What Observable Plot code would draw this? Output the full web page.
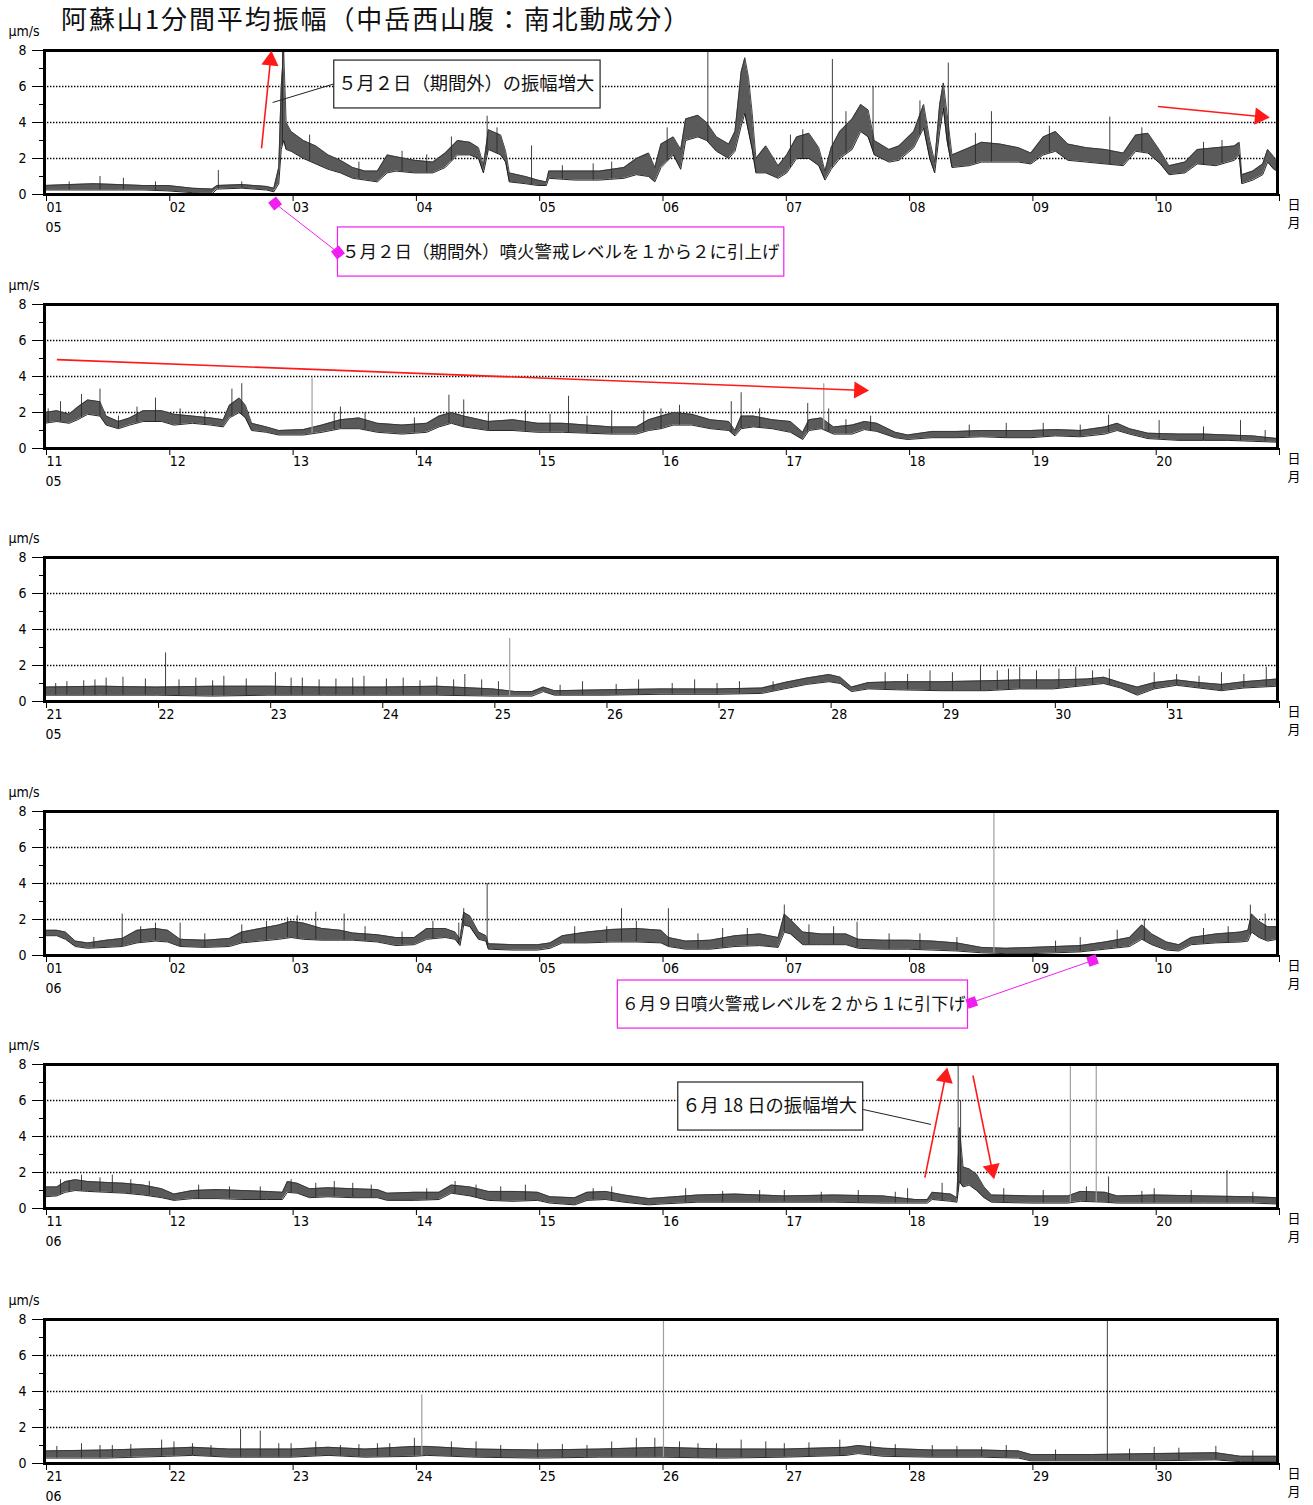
<!DOCTYPE html>
<html><head><meta charset="utf-8">
<script src="https://cdn.jsdelivr.net/npm/d3@7"></script>
<script src="https://cdn.jsdelivr.net/npm/@observablehq/plot@0.6"></script>
<style>
html,body{margin:0;padding:0;background:#fff;overflow:hidden;}
#wrap{position:relative;width:1313px;height:1505px;}
#title{position:absolute;left:61px;top:3px;font-family:"Noto Sans CJK JP",sans-serif;font-size:26px;line-height:30px;letter-spacing:1.9px;color:#111;white-space:nowrap;}
.panel{position:absolute;left:0;}
</style></head>
<body><div id="wrap"><div id="title">阿蘇山1分間平均振幅（中岳西山腹：南北動成分）</div></div>
<script>
// ---------------- DATA ----------------
// envelope knots: [day offset from panel start, lower, upper] in μm/s
const p1Env = [[0,0.25,0.5],[0.2,0.25,0.55],[0.4,0.25,0.6],[0.6,0.25,0.55],[0.8,0.25,0.5],[1.0,0.2,0.5],[1.2,0.1,0.35],[1.36,0.05,0.3],[1.4,0.3,0.5],[1.6,0.35,0.55],[1.8,0.25,0.45],[1.86,0.15,0.35],[1.9,0.6,1.5],[1.92,2.5,6.0],[1.94,3.0,8.0],[1.96,2.5,4.0],[2.0,2.4,3.5],[2.1,2.0,3.0],[2.2,1.7,2.7],[2.3,1.4,2.2],[2.4,1.2,1.9],[2.5,0.9,1.5],[2.6,0.8,1.3],[2.7,0.7,1.3],[2.78,1.2,2.2],[2.85,1.3,2.1],[3.0,1.2,1.9],[3.15,1.2,1.8],[3.25,1.5,2.3],[3.35,2.2,3.0],[3.45,2.2,2.9],[3.52,2.0,2.6],[3.56,1.2,1.6],[3.6,2.5,3.6],[3.7,2.2,3.3],[3.74,1.8,2.4],[3.77,0.7,1.2],[3.9,0.6,1.0],[4.0,0.5,0.8],[4.07,0.5,0.7],[4.09,0.9,1.3],[4.3,0.8,1.3],[4.5,0.8,1.3],[4.7,0.9,1.5],[4.8,1.1,2.0],[4.9,1.0,2.3],[4.95,0.7,1.5],[5.0,1.5,2.8],[5.1,2.2,3.2],[5.16,1.4,2.5],[5.2,3.0,4.2],[5.3,3.2,4.4],[5.37,3.0,4.0],[5.45,2.4,3.2],[5.55,2.0,2.8],[5.6,2.4,3.5],[5.65,3.8,6.8],[5.68,4.5,7.6],[5.71,3.5,6.5],[5.74,2.5,4.5],[5.77,1.2,2.0],[5.85,1.2,2.7],[5.95,0.9,1.6],[6.02,1.2,2.2],[6.1,2.0,3.2],[6.2,2.0,3.4],[6.28,1.6,2.6],[6.33,0.8,1.3],[6.38,1.4,2.6],[6.45,2.0,3.5],[6.55,2.5,4.2],[6.62,3.5,5.0],[6.68,3.2,4.7],[6.73,2.2,3.0],[6.85,1.8,2.5],[6.93,1.9,2.7],[7.05,2.6,3.5],[7.13,3.7,5.0],[7.18,2.0,3.0],[7.22,1.2,1.8],[7.26,3.5,5.0],[7.29,4.8,6.2],[7.32,3.0,4.5],[7.36,1.5,2.2],[7.5,1.6,2.6],[7.6,1.8,2.9],[7.75,1.8,2.8],[7.9,1.8,2.6],[8.0,1.7,2.3],[8.1,2.2,3.2],[8.2,2.4,3.5],[8.3,1.9,2.8],[8.45,1.8,2.6],[8.6,1.7,2.5],[8.75,1.6,2.3],[8.85,2.4,3.3],[8.95,2.3,3.4],[9.05,1.7,2.4],[9.12,1.1,1.6],[9.25,1.2,1.8],[9.35,1.7,2.5],[9.5,1.6,2.6],[9.65,1.9,2.7],[9.69,2.2,2.9],[9.71,0.6,1.1],[9.8,0.8,1.3],[9.88,1.1,1.7],[9.92,1.8,2.5],[9.97,1.4,2.1],[10,1.3,1.7]];
const p1Spikes = [[0.2,0.7],[0.45,1.0],[0.64,0.9],[0.9,0.7],[1.41,1.33],[1.6,0.7],[1.93,8],[2.15,3.3],[2.55,1.8],[2.9,2.4],[3.1,2.2],[3.3,3.2],[3.59,4.35],[3.67,3.7],[3.95,2.7],[4.2,1.6],[4.45,1.7],[4.6,1.8],[5.05,3.7],[5.38,8],[6.05,3.3],[6.15,3.6],[6.39,7.5],[6.5,4.6],[6.72,6.0],[7.1,5.2],[7.33,7.3],[7.55,3.4],[7.68,4.6],[8.15,3.8],[8.64,4.3],[8.9,3.7],[9.4,2.9],[9.55,3.0]];
const p1Gray = [];

const p2Env = [[0,1.4,2.0],[0.1,1.5,2.1],[0.2,1.4,1.9],[0.27,1.6,2.3],[0.35,1.9,2.7],[0.45,1.8,2.6],[0.5,1.3,1.8],[0.6,1.1,1.5],[0.69,1.3,1.7],[0.8,1.5,2.1],[0.95,1.5,2.1],[1.05,1.3,1.9],[1.2,1.4,1.8],[1.35,1.3,1.7],[1.45,1.2,1.6],[1.5,1.7,2.4],[1.58,2.0,2.8],[1.63,1.7,2.4],[1.68,1.0,1.4],[1.8,0.9,1.2],[1.9,0.75,1.0],[2.1,0.75,1.05],[2.25,0.9,1.3],[2.4,1.1,1.6],[2.55,1.1,1.7],[2.7,0.9,1.4],[2.9,0.8,1.3],[3.1,0.9,1.4],[3.2,1.2,1.8],[3.3,1.4,2.0],[3.4,1.2,1.8],[3.6,1.0,1.5],[3.8,1.0,1.6],[4.0,0.9,1.4],[4.2,0.9,1.4],[4.4,0.85,1.3],[4.6,0.8,1.2],[4.8,0.8,1.2],[4.9,1.0,1.6],[5.0,1.1,1.8],[5.1,1.3,2.0],[5.25,1.3,1.9],[5.4,1.1,1.6],[5.55,1.0,1.5],[5.6,0.7,1.0],[5.65,1.1,1.8],[5.75,1.2,1.8],[5.9,1.1,1.6],[6.05,0.9,1.5],[6.15,0.5,0.9],[6.2,1.0,1.6],[6.3,1.1,1.7],[6.4,0.8,1.2],[6.55,0.8,1.3],[6.65,1.05,1.5],[6.75,0.95,1.4],[6.9,0.6,0.9],[7.0,0.5,0.75],[7.2,0.6,0.95],[7.4,0.6,0.95],[7.6,0.65,1.0],[7.8,0.6,1.0],[8.0,0.6,1.0],[8.2,0.7,1.05],[8.4,0.65,1.0],[8.6,0.8,1.2],[8.7,1.0,1.4],[8.8,0.8,1.1],[8.95,0.55,0.85],[9.2,0.45,0.8],[9.4,0.45,0.8],[9.6,0.45,0.75],[9.8,0.4,0.7],[10,0.35,0.55]];
const p2Spikes = [[0.03,2.2],[0.13,2.6],[0.3,3.0],[0.45,3.3],[0.6,1.8],[0.75,2.3],[0.9,2.8],[1.1,2.2],[1.3,2.1],[1.52,3.3],[1.6,3.6],[2.35,2.0],[2.4,2.3],[2.6,2.0],[3.0,1.7],[3.28,2.96],[3.4,2.7],[3.6,2.0],[3.9,2.1],[4.1,1.9],[4.25,2.9],[4.4,1.8],[4.6,2.1],[4.86,2.1],[5.0,2.2],[5.15,2.4],[5.57,2.6],[5.65,3.1],[5.8,2.2],[6.19,2.5],[6.36,2.2],[6.5,1.6],[6.7,1.8],[7.5,1.3],[7.8,1.4],[8.1,1.4],[8.4,1.3],[8.63,1.85],[9.04,1.55],[9.4,1.2],[9.7,1.55],[9.9,1.0]];
const p2Gray = [[2.17,3.9],[6.32,3.6]];

const p3Env = [[0,0.35,0.8],[0.5,0.35,0.85],[1.0,0.35,0.8],[1.5,0.3,0.85],[2.0,0.35,0.85],[2.5,0.35,0.8],[3.0,0.35,0.8],[3.5,0.35,0.85],[4.0,0.3,0.7],[4.2,0.3,0.55],[4.35,0.3,0.55],[4.45,0.55,0.8],[4.55,0.35,0.6],[5.0,0.35,0.65],[5.5,0.4,0.7],[6.0,0.4,0.7],[6.4,0.45,0.75],[6.6,0.7,1.05],[6.8,0.95,1.3],[7.0,1.1,1.5],[7.1,1.0,1.35],[7.2,0.55,0.8],[7.35,0.7,1.05],[7.6,0.65,1.1],[8.0,0.6,1.1],[8.4,0.6,1.15],[8.7,0.7,1.2],[9.0,0.7,1.2],[9.3,0.9,1.25],[9.45,1.0,1.35],[9.6,0.75,1.05],[9.75,0.35,0.8],[9.9,0.7,1.05],[10.1,0.9,1.2],[10.3,0.75,1.05],[10.5,0.6,0.95],[10.7,0.75,1.1],[11,0.85,1.25]];
const p3Spikes = [[0.1,1.0],[0.2,1.1],[0.35,1.15],[0.45,1.2],[0.55,1.3],[0.7,1.35],[0.9,1.25],[1.08,2.7],[1.2,1.2],[1.35,1.3],[1.5,1.15],[1.6,1.4],[1.8,1.25],[2.06,1.6],[2.2,1.3],[2.3,1.3],[2.45,1.2],[2.6,1.25],[2.75,1.3],[2.85,1.4],[3.05,1.25],[3.2,1.3],[3.35,1.15],[3.5,1.35],[3.65,1.2],[3.75,1.5],[3.9,1.2],[4.05,1.1],[4.6,0.9],[4.8,1.1],[5.1,0.95],[5.3,1.2],[5.6,1.0],[5.8,1.2],[6.0,1.0],[6.2,1.1],[6.5,1.1],[7.5,1.6],[7.7,1.5],[7.9,1.7],[8.1,1.6],[8.35,2.0],[8.5,1.7],[8.6,1.8],[8.7,1.9],[8.85,1.7],[9.05,1.8],[9.2,1.9],[9.35,1.7],[9.5,1.8],[9.9,1.6],[10.1,1.5],[10.3,1.4],[10.5,1.6],[10.7,1.5],[10.9,1.9]];
const p3Gray = [[4.15,3.5]];

const p4Env = [[0,1.1,1.4],[0.1,1.1,1.4],[0.17,0.9,1.3],[0.25,0.5,0.8],[0.35,0.4,0.7],[0.5,0.45,0.85],[0.63,0.5,0.95],[0.75,0.7,1.4],[0.9,0.8,1.5],[1.0,0.75,1.4],[1.1,0.5,0.9],[1.3,0.45,0.85],[1.5,0.5,0.95],[1.6,0.7,1.3],[1.75,0.8,1.5],[1.9,0.9,1.7],[2.0,1.0,1.9],[2.1,0.9,1.8],[2.25,0.85,1.5],[2.4,0.85,1.4],[2.5,0.85,1.25],[2.7,0.75,1.15],[2.85,0.55,1.0],[3.0,0.6,1.0],[3.1,0.9,1.5],[3.25,1.0,1.5],[3.33,0.9,1.3],[3.37,0.55,0.9],[3.4,1.7,2.4],[3.45,1.6,2.2],[3.52,0.9,1.3],[3.58,0.8,1.1],[3.6,0.35,0.65],[3.8,0.3,0.6],[4.0,0.3,0.6],[4.1,0.4,0.7],[4.2,0.7,1.1],[4.4,0.7,1.3],[4.6,0.75,1.45],[4.8,0.75,1.5],[5.0,0.7,1.4],[5.06,0.5,1.0],[5.2,0.35,0.8],[5.4,0.35,0.85],[5.6,0.5,1.1],[5.8,0.55,1.2],[5.95,0.45,1.0],[6.0,1.3,2.3],[6.05,1.2,2.0],[6.15,0.6,1.3],[6.3,0.6,1.2],[6.5,0.6,1.2],[6.6,0.4,0.9],[6.8,0.35,0.85],[7.0,0.35,0.85],[7.2,0.3,0.8],[7.4,0.25,0.7],[7.6,0.15,0.45],[7.8,0.1,0.4],[8.0,0.1,0.45],[8.2,0.15,0.5],[8.4,0.2,0.55],[8.6,0.35,0.75],[8.8,0.5,1.0],[8.9,0.9,1.7],[8.98,0.6,1.2],[9.1,0.3,0.75],[9.2,0.25,0.6],[9.3,0.6,1.0],[9.5,0.7,1.2],[9.7,0.75,1.3],[9.76,0.8,1.4],[9.79,1.3,2.3],[9.85,1.0,1.9],[9.92,0.8,1.6],[10,0.9,1.6]];
const p4Spikes = [[0.4,1.0],[0.63,2.3],[0.78,1.6],[0.9,1.8],[1.1,1.8],[1.3,1.2],[1.6,1.7],[1.8,1.9],[1.97,2.1],[2.05,2.2],[2.2,2.4],[2.43,2.3],[2.6,1.6],[2.9,1.3],[3.15,1.9],[3.36,1.8],[3.4,2.6],[3.59,4.0],[4.3,1.6],[4.56,1.6],[4.68,2.6],[4.8,1.9],[5.06,2.6],[5.3,1.2],[5.5,1.5],[5.7,1.5],[6.0,2.8],[6.2,1.7],[6.4,1.6],[6.59,1.85],[6.85,1.2],[7.1,1.2],[7.4,1.0],[8.2,0.8],[8.4,1.0],[8.7,1.4],[8.92,2.0],[9.4,1.5],[9.6,1.6],[9.78,2.8],[9.9,2.3]];
const p4Gray = [[7.7,8]];

const p5Env = [[0,0.65,1.2],[0.1,0.7,1.2],[0.17,0.9,1.5],[0.25,1.0,1.6],[0.35,0.95,1.5],[0.5,0.9,1.45],[0.65,0.85,1.4],[0.8,0.75,1.3],[0.95,0.6,1.1],[1.05,0.45,0.8],[1.2,0.55,1.0],[1.4,0.55,1.05],[1.6,0.5,1.0],[1.8,0.5,0.95],[1.93,0.5,0.9],[1.97,0.9,1.5],[2.05,0.85,1.4],[2.15,0.6,1.1],[2.3,0.65,1.15],[2.5,0.6,1.1],[2.7,0.6,1.05],[2.78,0.45,0.85],[3.0,0.45,0.9],[3.2,0.5,0.9],[3.3,0.85,1.3],[3.45,0.7,1.2],[3.6,0.45,0.95],[3.8,0.4,0.95],[4.0,0.45,0.9],[4.1,0.3,0.65],[4.3,0.2,0.6],[4.4,0.45,0.9],[4.55,0.5,0.95],[4.7,0.35,0.75],[4.9,0.2,0.55],[5.0,0.25,0.6],[5.3,0.35,0.75],[5.6,0.35,0.8],[6.0,0.35,0.7],[6.4,0.35,0.75],[6.8,0.3,0.7],[7.06,0.3,0.5],[7.16,0.3,0.5],[7.2,0.5,0.9],[7.35,0.4,0.8],[7.4,0.35,0.6],[7.42,1.5,4.5],[7.45,1.2,2.3],[7.5,1.3,2.2],[7.56,1.0,1.9],[7.62,0.6,1.2],[7.68,0.35,0.75],[8.0,0.3,0.7],[8.3,0.3,0.7],[8.4,0.4,0.95],[8.6,0.35,0.9],[8.7,0.3,0.7],[9.0,0.3,0.75],[9.4,0.3,0.7],[9.8,0.3,0.65],[10,0.25,0.6]];
const p5Spikes = [[0.13,1.6],[0.2,1.5],[0.3,1.85],[0.45,1.7],[0.55,1.85],[0.7,1.6],[0.85,1.5],[1.25,1.3],[1.5,1.2],[1.75,1.2],[2.0,1.6],[2.2,1.4],[2.35,1.5],[2.5,1.4],[2.65,1.3],[3.1,1.1],[3.33,1.5],[3.5,1.3],[3.7,1.2],[3.9,1.3],[4.45,1.1],[4.6,1.2],[5.2,1.1],[5.5,0.95],[5.8,1.0],[6.0,1.0],[6.3,0.9],[6.6,1.0],[6.9,0.9],[7.0,1.1],[7.28,1.4],[7.41,8],[7.43,6.0],[7.78,1.1],[8.1,1.0],[8.45,1.2],[8.63,1.75],[8.9,0.95],[9.0,1.1],[9.3,1.0],[9.59,2.1],[9.8,0.9]];
const p5Gray = [[8.32,8],[8.53,8]];

const p6Env = [[0,0.3,0.7],[0.5,0.3,0.75],[1.0,0.4,0.85],[1.2,0.45,0.9],[1.5,0.35,0.8],[2.0,0.35,0.8],[2.3,0.45,0.9],[2.6,0.35,0.8],[3.0,0.4,0.95],[3.1,0.45,0.95],[3.5,0.35,0.8],[4.0,0.3,0.75],[4.5,0.35,0.8],[5.0,0.35,0.9],[5.5,0.3,0.8],[6.0,0.35,0.8],[6.5,0.45,0.9],[6.6,0.55,1.0],[6.8,0.4,0.85],[7.2,0.35,0.75],[7.6,0.35,0.75],[7.9,0.3,0.7],[8.0,0.15,0.5],[8.5,0.15,0.5],[9.0,0.15,0.55],[9.5,0.2,0.6],[9.7,0.1,0.4],[10,0.1,0.4]];
const p6Spikes = [[0.1,0.95],[0.3,1.1],[0.45,1.0],[0.55,1.0],[0.7,1.05],[0.95,1.3],[1.05,1.2],[1.2,1.1],[1.35,1.0],[1.59,1.9],[1.75,1.8],[1.9,1.1],[2.0,1.1],[2.2,1.2],[2.4,1.0],[2.55,1.05],[2.7,1.1],[2.8,1.1],[3.0,1.4],[3.3,1.2],[3.5,1.2],[3.7,1.0],[4.0,1.1],[4.2,1.05],[4.4,1.0],[4.6,1.2],[4.8,1.4],[4.95,1.4],[5.15,1.2],[5.3,1.1],[5.45,1.1],[5.65,1.3],[5.85,1.2],[6.0,1.1],[6.2,1.15],[6.45,1.3],[6.7,1.2],[6.9,1.05],[7.2,1.0],[7.4,0.95],[7.6,0.9],[7.8,1.0],[8.2,0.75],[8.62,8],[8.8,0.8],[9.0,0.9],[9.2,0.85],[9.5,0.95],[9.8,0.7]];
const p6Gray = [[3.06,3.8],[5.02,8]];

// day tick labels and month labels
const p1Ticks = ["01","02","03","04","05","06","07","08","09","10"];
const p2Ticks = ["11","12","13","14","15","16","17","18","19","20"];
const p3Ticks = ["21","22","23","24","25","26","27","28","29","30","31"];
const p4Ticks = ["01","02","03","04","05","06","07","08","09","10"];
const p5Ticks = ["11","12","13","14","15","16","17","18","19","20"];
const p6Ticks = ["21","22","23","24","25","26","27","28","29","30"];
const months = ["05","05","05","06","06","06"];
const yTicks = [0,2,4,6,8];
const yMinor = [1,3,5,7];
const gridVals = [2,4,6];

// annotation texts
const note1 = "５月２日（期間外）の振幅増大";
const note2 = "５月２日（期間外）噴火警戒レベルを１から２に引上げ";
const note3 = "６月９日噴火警戒レベルを２から１に引下げ";
const note4 = "６月 18 日の振幅増大";

// ---------------- LAYOUT ----------------
const W = 1313, ML = 44, MR = 36, MT = 30, FH = 144;
const panelTops = [20, 274, 527, 781, 1034, 1289];
const panelH = [264, 263, 264, 263, 265, 216];
const RED = "#ff1a1a", MAG = "#f01ef0";

function drawPanel(k, cfg) {
  const n = cfg.ticks.length;
  const pxDay = (W - ML - MR) / n, pxUnit = FH / 8;
  const env = cfg.env.map(([t, lo, hi]) => ({t, lo, hi}));
  const bis = d3.bisector(d => d.t).left;
  const baseAt = t => {
    const i = bis(env, t);
    if (i <= 0) return env[0].lo;
    if (i >= env.length) return env[env.length - 1].lo;
    const a = env[i - 1], b = env[i], f = (t - a.t) / (b.t - a.t);
    return a.lo + f * (b.lo - a.lo);
  };
  const spikes = cfg.spikes.map(([t, v]) => ({t, v, b: baseAt(t)}));
  const gray = cfg.gray.map(([t, v]) => ({t, v, b: baseAt(t)}));
  const H = panelH[k];
  const MB = H - MT - FH;

  const arrows = (cfg.arrows || []).map(([x1, y1, x2, y2]) => {
    const dx = (x2 - x1) * pxDay, dy = -(y2 - y1) * pxUnit, L = Math.hypot(dx, dy);
    const ux = dx / L, uy = dy / L;
    return {x1, y1, x2, y2, cx: x2 - 9 * ux / pxDay, cy: y2 + 9 * uy / pxUnit,
            a: Math.atan2(ux, -uy) * 180 / Math.PI};
  });
  const boxes = cfg.boxes || [];
  const leaders = cfg.leaders || [];
  const squares = cfg.squares || [];

  const marks = [
    Plot.gridY(gridVals, {stroke: "#000", strokeOpacity: 1, strokeWidth: 1.6, strokeDasharray: "1.4,1.6"}),
    Plot.areaY(env, {x: "t", y1: "lo", y2: "hi", fill: "#5a5a5a", curve: "linear"}),
    Plot.line(env, {x: "t", y: "hi", stroke: "#333", strokeWidth: 0.9}),
    Plot.line(env, {x: "t", y: "lo", stroke: "#111", strokeWidth: 0.9}),
    Plot.ruleX(gray, {x: "t", y1: "b", y2: "v", stroke: "#a0a0a0", strokeWidth: 1.2}),
    Plot.ruleX(spikes, {x: "t", y1: "b", y2: "v", stroke: "#2a2a2a", strokeWidth: 0.9}),
    Plot.frame({stroke: "#000", strokeWidth: 3}),
    Plot.axisY(yTicks, {tickSize: 12, tickPadding: 6, fontSize: 14, tickFormat: d => String(d)}),
    Plot.axisY(yMinor, {tickSize: 5, tickFormat: () => ""}),
    Plot.axisX(d3.range(n + 1), {tickSize: 7, tickPadding: 1, fontSize: 14, textAnchor: "start", dx: 2,
      tickFormat: d => cfg.ticks[d] ?? ""}),
    Plot.text([months[k]], {text: d => d, frameAnchor: "bottom-left", dx: 1, dy: 37, textAnchor: "start", fontSize: 14}),
    Plot.text(["日"], {text: d => d, frameAnchor: "bottom-right", dx: 10, dy: 14, textAnchor: "start", fontSize: 13, fontFamily: "Noto Sans CJK JP"}),
    Plot.text(["月"], {text: d => d, frameAnchor: "bottom-right", dx: 10, dy: 32, textAnchor: "start", fontSize: 13, fontFamily: "Noto Sans CJK JP"}),
    Plot.text(["μm/s"], {text: d => d, frameAnchor: "top-left", lineAnchor: "middle", dx: -36, dy: -19, textAnchor: "start", fontSize: 14}),
    // annotations
    Plot.link(leaders, {x1: d => d[0], y1: d => d[1], x2: d => d[2], y2: d => d[3], stroke: d => d[4], strokeWidth: 1}),
    Plot.rect(boxes, {x1: d => d.x1, x2: d => d.x2, y1: d => d.y1, y2: d => d.y2, fill: "white", stroke: d => d.stroke, strokeWidth: 1.2}),
    ...boxes.map(b => Plot.text([b], {x: d => d.x1, y: d => (d.y1 + d.y2) / 2, text: d => d.text, textAnchor: "start", dx: 4,
      fontSize: b.size, fontFamily: "Noto Sans CJK JP", fill: "#111"})),
    Plot.dot(squares, {x: d => d[0], y: d => d[1], symbol: "square", r: 5.6, fill: MAG, rotate: d => d[2] || 0}),
    Plot.link(arrows, {x1: "x1", y1: "y1", x2: "cx", y2: "cy", stroke: RED, strokeWidth: 1.6}),
    Plot.dot(arrows, {x: "cx", y: "cy", symbol: "triangle", r: 6.4, fill: RED, rotate: "a"})
  ];

  const svg = Plot.plot({
    width: W, height: H,
    marginLeft: ML, marginRight: MR, marginTop: MT, marginBottom: MB,
    x: {domain: [0, n], axis: null},
    y: {domain: [0, 8], axis: null},
    style: {fontFamily: "'Liberation Sans Narrow','DejaVu Sans Condensed','Liberation Sans',sans-serif", fontSize: "14px", background: "transparent", maxWidth: "none", color: "#000"},
    marks
  });
  svg.classList.add("panel");
  svg.style.position = "absolute";
  svg.style.top = panelTops[k] + "px";
  svg.style.left = "0px";
  document.getElementById("wrap").appendChild(svg);
}

drawPanel(0, {env: p1Env, spikes: p1Spikes, gray: p1Gray, ticks: p1Ticks,
  arrows: [[1.76, 2.56, 1.84, 7.94], [9.03, 4.89, 9.93, 4.28]],
  leaders: [[2.36, 6.17, 1.85, 5.11, "#222"], [1.87, -0.5, 2.38, -3.22, MAG]],
  boxes: [{x1: 2.35, x2: 4.51, y1: 4.78, y2: 7.44, stroke: "#222", text: note1, size: 18.3},
          {x1: 2.38, x2: 6.0, y1: -4.56, y2: -1.83, stroke: MAG, text: note2, size: 17.5}],
  squares: [[1.87, -0.5, 52], [2.38, -3.22, 52]]
});
drawPanel(1, {env: p2Env, spikes: p2Spikes, gray: p2Gray, ticks: p2Ticks,
  arrows: [[0.10, 4.94, 6.68, 3.22]]
});
drawPanel(2, {env: p3Env, spikes: p3Spikes, gray: p3Gray, ticks: p3Ticks});
drawPanel(3, {env: p4Env, spikes: p4Spikes, gray: p4Gray, ticks: p4Ticks,
  leaders: [[8.5, -0.28, 7.52, -2.61, MAG]],
  boxes: [{x1: 4.65, x2: 7.49, y1: -4.06, y2: -1.39, stroke: MAG, text: note3, size: 17.2}],
  squares: [[8.5, -0.28, -19], [7.52, -2.61, -19]]
});
drawPanel(4, {env: p5Env, spikes: p5Spikes, gray: p5Gray, ticks: p5Ticks,
  arrows: [[7.14, 1.72, 7.32, 7.78], [7.53, 7.39, 7.70, 1.67]],
  leaders: [[6.64, 5.5, 7.19, 4.67, "#222"]],
  boxes: [{x1: 5.14, x2: 6.64, y1: 4.33, y2: 7.0, stroke: "#222", text: note4, size: 18.3}]
});
drawPanel(5, {env: p6Env, spikes: p6Spikes, gray: p6Gray, ticks: p6Ticks});
</script>
</body></html>
